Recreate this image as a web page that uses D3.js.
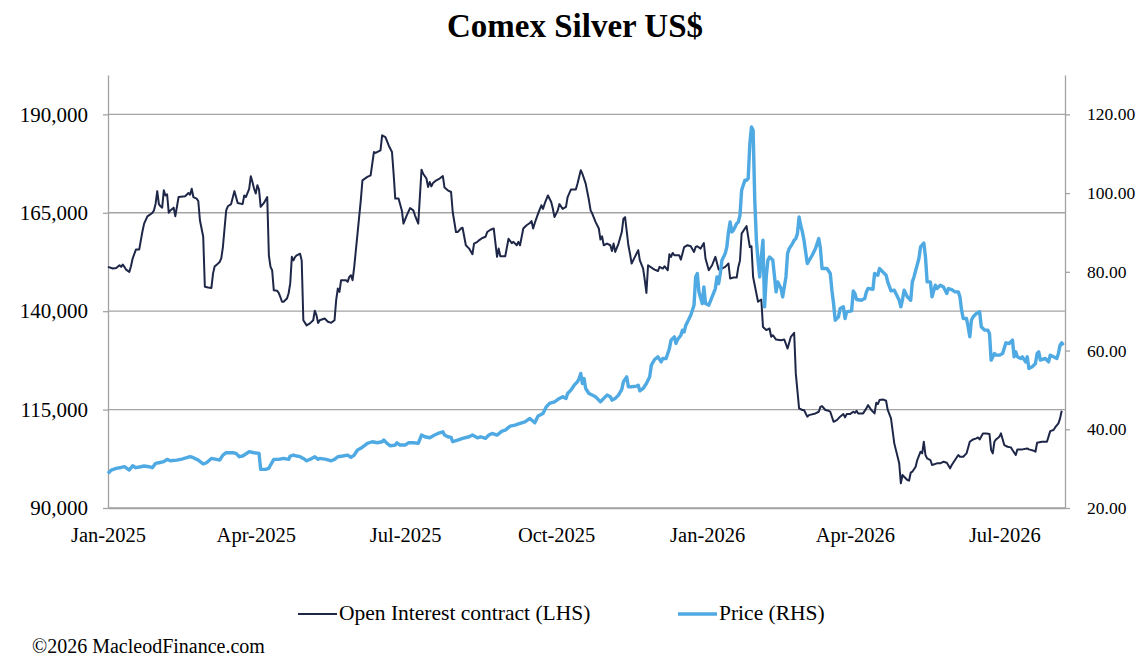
<!DOCTYPE html>
<html>
<head>
<meta charset="utf-8">
<script src="https://cdn.jsdelivr.net/npm/d3@7"></script>
<style>
  html, body { margin: 0; padding: 0; background: #fff; }
  svg { display: block; }
  text { font-family: "Liberation Serif", "Times New Roman", serif; fill: #000; }
</style>
</head>
<body>
<svg id="chart" width="1142" height="660"></svg>
<script>
// ---- Data ----
const startDate = "2025-01-01";      // day 0 of the day offsets below
const endDate = "2026-08-07";

// Open Interest (contracts), LHS — days since 1 Jan 2025
const oiDays = [0,3,5,7,8,9,10,11,13,14,15,17,19,20,21,22,24,27,28,29,30,31,32,33,34,35,36,37,38,40,41,43,47,49,50,51,52,54,55,56,58,59,61,63,64,65,66,68,69,70,71,72,73,75,77,78,79,82,83,84,86,87,88,89,90,91,92,93,95,97,98,99,100,101,103,104,105,106,107,109,110,111,112,113,114,115,117,118,119,121,123,125,126,127,128,129,
132,134,136,138,139,140,141,142,145,146,147,148,149,150,152,154,155,158,160,162,163,166,167,169,171,173,174,175,177,179,180,182,184,186,187,189,191,192,194,195,196,197,198,200,202,204,205,207,209,210,212,213,215,216,218,220,222,223,225,226,228,230,231,233,235,237,238,239,242,244,246,247,249,250,251,253,255,257,258,259,260,262,264,265,266,268,270,271,272,274,275,
277,279,280,282,285,286,288,289,291,293,294,295,297,299,300,301,302,304,306,307,308,309,311,313,314,315,317,318,319,321,323,324,326,327,328,329,332,333,335,336,338,339,341,342,343,344,345,348,349,351,353,355,357,358,359,361,363,364,366,368,370,372,374,376,378,379,381,383,384,385,386,388,389,390,391,392,393,395,396,398,399,401,403,404,405,407,410,412,414,416,418,419,421,423,424,426,427,
431,433,434,435,437,439,440,442,444,446,448,449,450,452,454,455,456,457,460,462,463,465,467,468,469,470,472,474,475,477,479,482,483,484,485,487,488,489,490,492,493,495,496,497,498,499,501,502,505,507,509,511,513,514,516,518,519,521,523,525,527,529,530,531,533,535,537,538,539,540,541,543,544,546,548,550,551,553,554,557,560,561,564,565,566,569,572,574,576,577,579,580,581];
const oiValues = [151250,150830,150990,151670,151250,151840,151250,150570,149980,151420,153370,155650,155650,158000,160300,162250,164100,164950,165600,167300,170500,167200,166650,166300,170700,169400,169700,165000,165600,166300,164100,169000,169200,170000,169600,171100,169000,168600,168000,163100,158900,146200,146000,145900,149600,151400,151700,152500,153400,156300,161000,165600,166650,167200,170500,169000,167500,167200,169400,169000,171100,174300,172800,171100,169900,172000,170900,166500,167500,169000,154200,151250,150400,145300,145200,144650,143600,142400,142400,143200,144500,147000,153800,152900,153800,154200,154600,152900,137700,136400,136900,137700,140100,139000,137000,137700,
138140,137300,137040,137700,142790,145750,144900,147870,147870,147440,148700,149140,147870,151250,159710,168170,173250,174100,174500,180440,180200,180860,184670,184200,182100,180440,174900,168600,168600,165600,162250,164360,166200,165600,164360,162250,175950,174900,173700,171560,172800,171700,172570,173250,173700,174300,171400,170700,170280,165200,160100,160100,161000,161200,156750,155900,154470,157170,157600,158000,158600,158900,160100,160700,161000,153800,155900,153970,153970,158400,157300,157600,156750,157600,156750,161000,161830,162400,162900,161000,162400,164800,166900,166000,167300,169400,167750,166000,163900,165600,167200,
166000,166500,169000,170900,170900,172400,175800,174900,172400,168170,165600,164800,162700,161000,158200,159000,156750,157170,156750,155300,157170,155060,157170,160100,163500,163900,156750,154600,152100,153800,155500,152900,150830,147870,144650,151670,150830,150570,150200,151250,150830,151420,150400,154470,153800,154800,154200,154200,153100,156300,156750,156500,155060,156300,156500,155900,157300,153370,150400,151670,153800,150570,150830,151250,152100,148300,148550,148550,151250,152900,159710,161000,161600,158900,156300,156500,148700,144500,142400,142960,136000,135200,135600,133500,133900,132800,132600,132800,130500,133500,134500,124200,115300,114900,114900,113200,113600,
114030,114450,115700,115890,114900,114700,114450,111900,112330,113200,113860,113020,113860,113860,114450,114190,114700,114030,114030,115300,116140,114900,114030,116730,116400,117410,117580,117240,114900,112760,106420,101340,96270,98380,97950,97110,96940,98970,99220,100490,102180,104300,103870,106830,103450,102600,102180,100910,101340,101340,101760,101500,100070,100910,102180,103450,103030,103030,103870,106830,107420,107700,107930,107420,108950,108950,108780,104720,103870,106830,107420,108100,108950,105990,105560,105400,104720,103450,104890,104890,105140,104890,104550,104300,106570,106830,106830,109540,109800,110470,111500,112760,114700];

// Price (US$), RHS — days since 1 Jan 2025
const priceDays = [0,2,5,8,10,13,15,17,20,22,25,27,29,31,34,36,38,42,45,48,50,52,55,58,60,63,66,68,70,72,76,78,80,82,86,89,92,93,96,98,99,101,104,107,110,111,113,115,117,119,121,123,126,128,129,
133,136,138,140,143,146,148,150,152,154,158,161,164,167,168,170,172,175,176,178,181,183,186,189,191,193,196,199,202,204,205,207,209,210,213,216,220,222,225,227,230,232,234,237,240,242,245,248,251,254,257,260,262,265,267,269,272,275,
277,279,280,282,284,286,287,288,289,290,291,293,295,297,299,300,302,304,306,307,309,311,313,314,316,317,319,322,323,324,326,328,330,331,333,335,337,338,340,342,343,345,346,347,349,350,351,352,353,355,357,358,359,360,362,363,364,366,368,370,371,372,373,374,375,376,377,378,379,380,381,383,384,385,386,388,389,390,391,392,393,394,395,396,397,398,399,400,401,402,403,404,405,407,408,410,411,413,414,415,417,418,419,420,421,422,423,424,426,
429,431,433,434,435,438,440,441,442,443,445,446,448,449,450,453,454,455,456,459,461,462,463,466,467,469,470,472,474,475,477,479,482,483,484,485,487,489,490,491,494,495,497,498,499,501,502,504,505,507,509,511,512,514,516,518,519,520,521,523,524,525,526,527,529,531,532,534,536,537,538,540,541,543,545,547,549,551,552,553,554,556,557,559,560,561,563,565,566,567,568,571,573,574,576,578,579,580,581,582];
const priceValues = [28.8,29.65,30.07,30.3,30.49,29.65,30.75,30.24,30.49,30.66,30.49,30.24,31.34,31.5,31.76,32.35,32.0,32.17,32.43,32.77,33.03,32.77,32.17,31.17,31.5,32.6,32.35,32.17,33.45,34.04,34.04,33.87,33.03,33.2,34.3,34.04,33.87,29.8,29.8,30.07,30.9,32.35,32.35,32.6,32.35,33.2,33.45,33.2,33.03,32.6,32.0,32.35,33.03,32.35,32.6,
32.35,32.0,32.35,33.03,33.2,33.45,32.86,33.45,34.72,35.15,36.42,36.83,36.57,36.83,37.26,36.42,35.81,35.99,36.57,35.99,35.99,36.57,36.57,36.42,38.53,38.1,37.84,38.53,39.11,39.37,38.53,38.1,37.93,36.83,37.26,37.68,38.1,38.53,37.84,38.1,37.68,38.53,38.95,38.53,39.54,39.8,40.81,41.07,41.5,41.9,42.76,41.65,43.35,44.03,45.7,46.57,46.98,47.84,
48.25,47.84,49.1,49.95,51.2,52.06,52.9,54.18,51.64,52.9,50.37,49.1,48.68,48.25,47.41,46.98,47.84,48.68,48.25,47.41,47.84,48.68,50.12,52.06,53.32,50.79,50.79,50.96,51.2,49.78,50.37,51.64,53.32,56.29,57.73,58.4,57.13,57.99,57.99,60.53,62.64,63.48,61.8,62.8,63.91,65.18,64.75,66.45,67.28,68.98,71.52,78.7,79.57,74.9,71.95,76.17,71.95,71.52,73.63,75.75,78.7,77.03,79.57,82.94,83.78,84.64,86.32,90.13,92.66,90.13,90.56,92.26,92.66,94.36,100.7,103.25,103.25,103.67,112.55,116.78,115.94,98.17,88.02,82.94,78.7,83.78,88.02,71.09,78.7,82.94,83.78,83.37,82.94,74.9,77.44,75.75,73.63,78.7,84.64,85.9,87.17,88.02,88.44,89.71,93.93,91.83,90.13,88.02,82.1,
84.21,85.9,88.44,85.9,80.83,80.83,79.57,75.33,71.95,67.71,68.55,70.68,71.09,68.14,69.82,70.08,75.15,74.48,72.96,72.79,73.2,74.9,75.75,75.58,79.57,79.14,80.83,79.98,79.14,77.44,75.15,75.33,72.79,71.09,72.96,75.33,73.63,72.79,77.44,78.7,83.37,86.32,87.33,83.78,77.44,77.44,73.63,76.6,75.75,76.6,76.17,74.48,75.75,75.5,74.9,74.9,73.63,70.25,68.14,68.14,66.03,63.48,67.71,68.55,69.41,69.82,66.03,65.18,65.18,64.33,57.56,59.26,58.83,58.83,59.26,61.96,61.8,62.64,58.4,59.67,58.4,57.99,58.4,57.13,58.4,55.45,55.86,56.72,59.26,59.67,57.56,57.99,57.13,58.83,58.4,57.99,59.26,61.37,61.96,61.37];

// Axis ticks
const xTickDates = ["2025-01-01","2025-04-01","2025-07-01","2025-10-01","2026-01-01","2026-04-01","2026-07-01"];
const xTickLabels = ["Jan-2025","Apr-2025","Jul-2025","Oct-2025","Jan-2026","Apr-2026","Jul-2026"];
const leftTicks = [90000,115000,140000,165000,190000];
const rightTicks = [20,40,60,80,100,120];
const leftDomain = [90000, 200000];
const rightDomain = [20, 130];

const titleText = "Comex Silver US$";
const seriesNames = ["Open Interest contract (LHS)", "Price (RHS)"];
const footerText = "\u00A92026 MacleodFinance.com";

// ---- Layout ----
const W = 1142, H = 660;
const plot = { left: 108, right: 1065, top: 75, bottom: 508 };
const colOI = "#1e2748", colPrice = "#4fa9e2", colAxis = "#a3a3a3";

const parse = d3.utcParse("%Y-%m-%d");
const t0 = parse(startDate);
const toDate = d => d3.utcDay.offset(t0, d);

const x = d3.scaleUtc().domain([t0, parse(endDate)]).range([plot.left, plot.right]);
const yL = d3.scaleLinear().domain(leftDomain).range([plot.bottom, plot.top]);
const yR = d3.scaleLinear().domain(rightDomain).range([plot.bottom, plot.top]);

const svg = d3.select("#chart");

// Title
svg.append("text").attr("x", 575).attr("y", 37).attr("text-anchor", "middle")
  .style("font-size", "33px").style("font-weight", "bold").text(titleText);

// Gridlines (left axis values)
svg.append("g").selectAll("line").data(leftTicks).join("line")
  .attr("x1", plot.left).attr("x2", plot.right)
  .attr("y1", d => yL(d)).attr("y2", d => yL(d))
  .attr("stroke", colAxis).attr("stroke-width", 1.3);

// Left axis
const gL = svg.append("g").attr("transform", `translate(${plot.left},0)`)
  .call(d3.axisLeft(yL).tickValues(leftTicks).tickFormat(d3.format(",")).tickSize(5).tickSizeOuter(0).tickPadding(15));
// Right axis
const gR = svg.append("g").attr("transform", `translate(${plot.right},0)`)
  .call(d3.axisRight(yR).tickValues(rightTicks).tickFormat(d3.format(".2f")).tickSize(5).tickSizeOuter(0).tickPadding(17));
// Bottom axis
const gB = svg.append("g").attr("transform", `translate(0,${plot.bottom})`)
  .call(d3.axisBottom(x).tickValues(xTickDates.map(parse)).tickFormat((d, i) => xTickLabels[i]).tickSize(0).tickSizeOuter(0).tickPadding(19));

[gL, gR, gB].forEach(g => {
  g.select(".domain").attr("stroke", colAxis).attr("stroke-width", 1.3);
  g.selectAll(".tick line").attr("stroke", colAxis).attr("stroke-width", 1.3);
  g.selectAll("text").attr("fill", "#000").style("font-family", '"Liberation Serif", "Times New Roman", serif');
});
gL.selectAll("text").style("font-size", "21px");
gR.selectAll("text").style("font-size", "17.5px");
gB.selectAll("text").style("font-size", "20.5px");

// Lines
const lineOI = d3.line().x(d => x(toDate(d[0]))).y(d => yL(d[1]));
const linePrice = d3.line().x(d => x(toDate(d[0]))).y(d => yR(d[1]));

svg.append("path").datum(oiDays.map((d, i) => [d, oiValues[i]]))
  .attr("d", lineOI).attr("fill", "none").attr("stroke", colOI)
  .attr("stroke-width", 2).attr("stroke-linejoin", "round");
svg.append("path").datum(priceDays.map((d, i) => [d, priceValues[i]]))
  .attr("d", linePrice).attr("fill", "none").attr("stroke", colPrice)
  .attr("stroke-width", 3.4).attr("stroke-linejoin", "round");

// Legend
const legend = [
  { name: seriesNames[0], color: colOI, w: 2, x: 298 },
  { name: seriesNames[1], color: colPrice, w: 3.4, x: 678 }
];
const lg = svg.append("g");
legend.forEach(l => {
  lg.append("line").attr("x1", l.x).attr("x2", l.x + 39).attr("y1", 614).attr("y2", 614)
    .attr("stroke", l.color).attr("stroke-width", l.w);
  lg.append("text").attr("x", l.x + 41).attr("y", 620).style("font-size", "21.5px").text(l.name);
});

// Footer
svg.append("text").attr("x", 32).attr("y", 653).style("font-size", "20px").text(footerText);
</script>
</body>
</html>
